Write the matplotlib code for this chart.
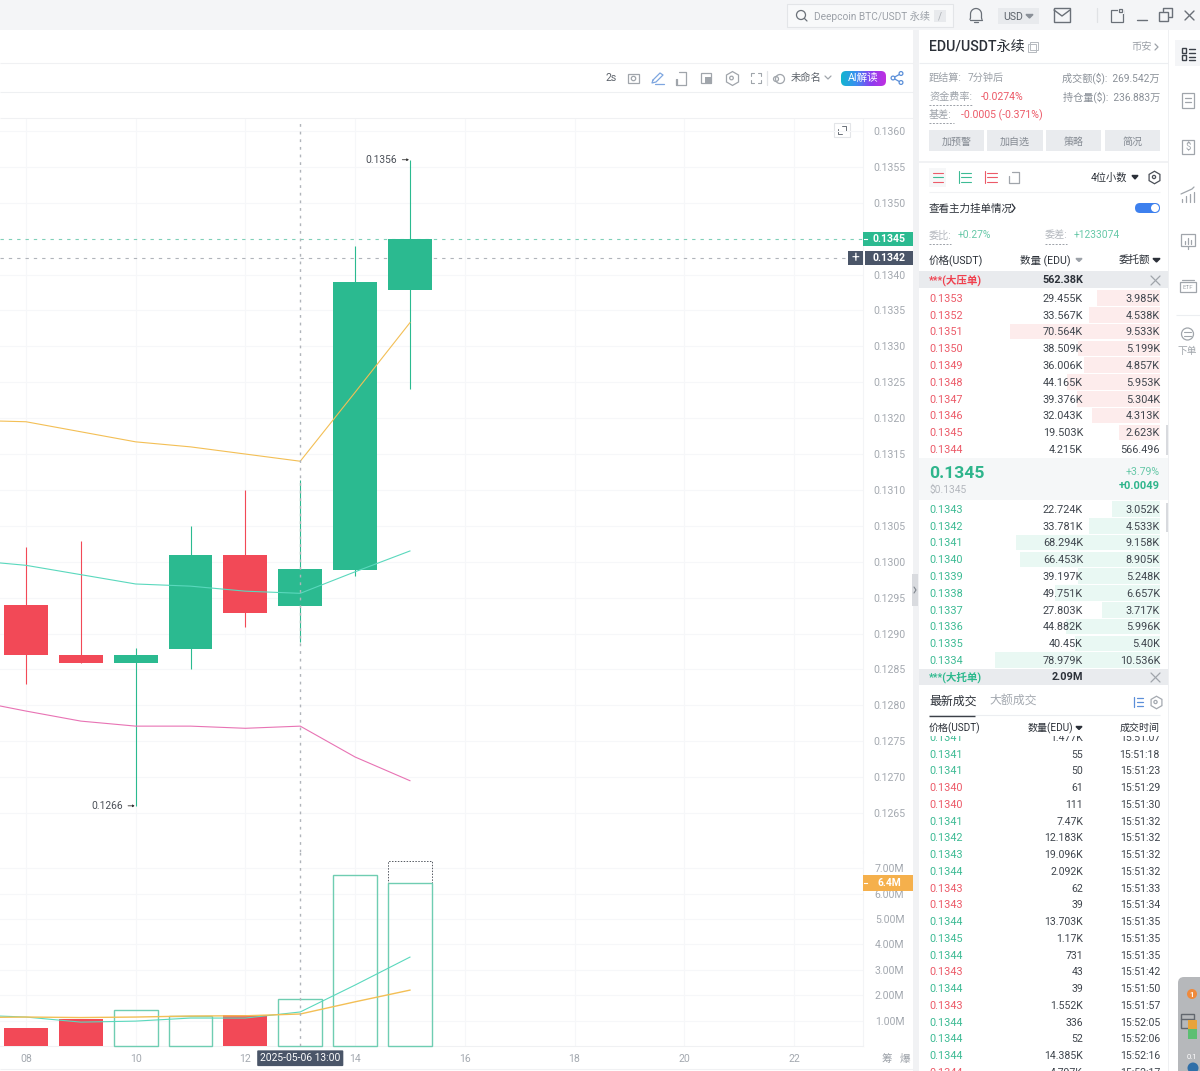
import matplotlib
matplotlib.use('Agg')
import matplotlib.pyplot as plt
from matplotlib.colors import LinearSegmentedColormap
from matplotlib.patches import Rectangle, FancyBboxPatch, Circle
import numpy as np

plt.rcParams['font.family'] = ['Roboto', 'Noto Sans CJK SC', 'DejaVu Sans']

# Candle data, one per hour
hours = [8, 9, 10, 11, 12, 13, 14, 15]
opens = [0.1294, 0.1287, 0.12859, 0.12878, 0.13009, 0.12938, 0.12988, 0.13379]
closes = [0.1287, 0.12859, 0.1287, 0.13009, 0.12929, 0.1299, 0.1339, 0.1345]
highs = [0.1302, 0.13029, 0.1288, 0.1305, 0.1310, 0.13114, 0.1344, 0.1356]
lows = [0.1283, 0.12859, 0.1266, 0.12851, 0.12909, 0.12888, 0.1298, 0.13241]
volumes = [0.71, 1.06, 1.42, 1.18, 1.22, 1.85, 6.73, 6.42]
volume_forecast = 7.28

# Moving averages (first point sits just off the left edge)
ma_hours = [7, 8, 9, 10, 11, 12, 13, 14, 15]
ma_yellow = [0.13197, 0.13195, 0.13181, 0.13167, 0.1316, 0.1315, 0.1314, 0.13236, 0.13333]
ma_teal = [0.13002, 0.12995, 0.12982, 0.12969, 0.12966, 0.12959, 0.12956, 0.12986, 0.13015]
ma_pink = [0.12807, 0.12792, 0.12778, 0.12771, 0.12771, 0.12768, 0.12771, 0.12728, 0.12695]
vol_ma_teal = [1.22, 1.14, 0.94, 0.98, 1.1, 1.1, 1.34, 2.4, 3.5]
vol_ma_yellow = [1.12, 1.14, 1.12, 1.14, 1.18, 1.19, 1.26, 1.74, 2.2]

price_ticks = [0.1265, 0.1270, 0.1275, 0.1280, 0.1285, 0.1290, 0.1295, 0.1300, 0.1305, 0.1310,
               0.1315, 0.1320, 0.1325, 0.1330, 0.1335, 0.1340, 0.1350, 0.1355, 0.1360]
vol_ticks = [1, 2, 3, 4, 5, 6, 7]
hour_ticks = [8, 10, 12, 14, 16, 18, 20, 22]
last_price = 0.1345
cross_price = 0.13423

# Order book
ask_prices = ['0.1353', '0.1352', '0.1351', '0.1350', '0.1349', '0.1348', '0.1347', '0.1346', '0.1345', '0.1344']
ask_sizes = ['29.455K', '33.567K', '70.564K', '38.509K', '36.006K', '44.165K', '39.376K', '32.043K', '19.503K', '4.215K']
ask_totals = ['3.985K', '4.538K', '9.533K', '5.199K', '4.857K', '5.953K', '5.304K', '4.313K', '2.623K', '566.496']
bid_prices = ['0.1343', '0.1342', '0.1341', '0.1340', '0.1339', '0.1338', '0.1337', '0.1336', '0.1335', '0.1334']
bid_sizes = ['22.724K', '33.781K', '68.294K', '66.453K', '39.197K', '49.751K', '27.803K', '44.882K', '40.45K', '78.979K']
bid_totals = ['3.052K', '4.533K', '9.158K', '8.905K', '5.248K', '6.657K', '3.717K', '5.996K', '5.40K', '10.536K']

# Latest trades
trade_prices = ['0.1341', '0.1341', '0.1341', '0.1340', '0.1340', '0.1341', '0.1342', '0.1343', '0.1344', '0.1343', '0.1343',
                '0.1344', '0.1345', '0.1344', '0.1343', '0.1344', '0.1343', '0.1344', '0.1344', '0.1344', '0.1344']
trade_sizes = ['1.477K', '55', '50', '61', '111', '7.47K', '12.183K', '19.096K', '2.092K', '62', '39',
               '13.703K', '1.17K', '731', '43', '39', '1.552K', '336', '52', '14.385K', '4.797K']
trade_times = ['15:51:07', '15:51:18', '15:51:23', '15:51:29', '15:51:30', '15:51:32', '15:51:32', '15:51:32', '15:51:32',
               '15:51:33', '15:51:34', '15:51:35', '15:51:35', '15:51:35', '15:51:42', '15:51:50', '15:51:57',
               '15:52:05', '15:52:06', '15:52:16', '15:52:17']
trade_sides = ['g', 'g', 'g', 'r', 'r', 'g', 'g', 'g', 'g', 'r', 'r', 'g', 'g', 'g', 'r', 'g', 'r', 'g', 'g', 'g', 'r']

GREEN = '#2bba90'
RED = '#f24957'
TXT_GREEN = '#3dbb94'
TXT_RED = '#ec5a68'
DARK = '#2b3038'
GRAY = '#a0a5ab'
AXIS = '#a4a9b0'
W, H = 1200, 1071

fig = plt.figure(figsize=(12, 10.71), dpi=100, facecolor='white')


def px_axes(left, top, right, bottom, **kw):
    return fig.add_axes([left / W, 1 - bottom / H, (right - left) / W, (bottom - top) / H], **kw)


# Page furniture lives on a pixel-coordinate axes underneath the chart
ui = px_axes(0, 0, W, H, zorder=0)
ui.set_xlim(0, W)
ui.set_ylim(H, 0)
ui.axis('off')


def box(x0, y0, x1, y1, color, z=1, **kw):
    ui.add_patch(Rectangle((x0, y0), x1 - x0, y1 - y0, fc=color, ec='none', zorder=z, **kw))


def outline(x0, y0, x1, y1, color=GRAY, lw=0.9, z=5):
    ui.add_patch(Rectangle((x0, y0), x1 - x0, y1 - y0, fc='none', ec=color, lw=lw, zorder=z))


def hline(y, x0, x1, color='#eceef1', lw=0.8, ls='-', z=2):
    ui.plot([x0, x1], [y, y], color=color, lw=lw, ls=ls, zorder=z, solid_capstyle='butt')


def poly(xs, ys, color=GRAY, lw=0.9, z=5):
    ui.plot(xs, ys, color=color, lw=lw, zorder=z, solid_capstyle='round')


def label(x, y, s, size=7.6, color=DARK, ha='left', weight='normal', z=6):
    # text boxes sit a touch high when centred on the row
    ui.text(x, y + 0.8, s, fontsize=size, color=color, ha=ha, va='center', fontweight=weight, zorder=z)


def ring(x, y, r, color=GRAY, lw=0.9):
    ui.add_patch(Circle((x, y), r, fc='none', ec=color, lw=lw, zorder=5))


def depth_width(total):
    # 15.7 px per thousand USDT in the depth bars
    val = float(total[:-1]) if total.endswith('K') else float(total) / 1000
    return val * 15.7


# backgrounds
box(0, 0, W, 30, '#f4f5f7')
box(913, 30, 919, H, '#f1f2f4')
box(1168, 30, 1169, H, '#eff0f2')
hline(63, 0, 913, color='#f0f1f3')
hline(92, 0, 913, color='#eef0f2')
hline(118, 0, 913, color='#f0f1f3')
hline(1069, 0, 913, color='#f0f1f3')
box(912, 574, 918, 606, '#d9dbdf', z=3)
poly([914, 916, 914], [587, 590, 593], color='#7f858d', lw=0.8)

# top bar
ui.add_patch(Rectangle((787, 4), 166, 23, fc='#f8f9fa', ec='#e3e5e8', lw=0.8, zorder=2))
ring(801, 15, 4.5, color='#6a7078')
poly([804.5, 807], [18.5, 21], color='#6a7078')
label(814, 16, 'Deepcoin BTC/USDT 永续', size=7.3, color='#9ca1a8')
box(934, 10, 946, 22, '#e8eaed', z=3)
label(940, 16, '/', size=7, color='#aaaeb4', ha='center')
# bell
ang = np.linspace(np.pi, 2 * np.pi, 20)
poly(np.r_[970, 970.5, 976 + 5.5 * np.cos(ang), 981.5, 982], np.r_[19.5, 18, 14 + 5.5 * np.sin(ang), 18, 19.5], color='#6a7078')
poly([970, 982], [19.5, 19.5], color='#6a7078')
poly([974, 978], [22, 22], color='#6a7078')
box(998, 8, 1039, 24, '#e8eaed', z=2)
label(1003, 16, 'USD', size=7.6, color='#5d636b')
ui.fill([1026, 1033, 1029.5], [14.5, 14.5, 18], color='#8a9098', zorder=5)
outline(1054, 8, 1070, 22, color='#6a7078', lw=1)
poly([1054, 1062, 1070], [10, 16, 10], color='#6a7078', lw=1)
poly([1097, 1097], [8, 22], color='#e0e2e5')
outline(1111, 10, 1123, 22, color='#6a7078')
box(1118, 8, 1124, 14, '#f4f5f7', z=5.5)
outline(1119, 9, 1122, 12, color='#6a7078', z=6)
poly([1137, 1147], [19.5, 19.5], color='#6a7078', lw=1)
outline(1159, 12, 1168, 21, color='#6a7078', lw=1)
poly([1163, 1163, 1172, 1172, 1169], [11, 8, 8, 17, 17], color='#6a7078', lw=1)
poly([1185, 1194], [11, 20], color='#6a7078', lw=1)
poly([1194, 1185], [11, 20], color='#6a7078', lw=1)

# chart toolbar
label(605, 77, '2s', size=7.6, color='#5d636b')
outline(628, 74, 639, 83)
ring(633.5, 78.5, 2.2)
poly([653, 660, 663, 656, 652, 653], [80, 73, 75, 82, 83, 80], color='#7ea6e0')
poly([655, 664], [84, 84], color='#7ea6e0')
poly([679, 686, 686, 676, 676], [72, 72, 85, 85, 79])
poly([677, 677], [79, 85])
outline(701, 73, 711, 83)
box(705, 77, 712, 84, GRAY, z=5)
ui.plot([731.5], [78], marker='h', ms=10, mfc='none', mec=GRAY, mew=0.9, zorder=5)
ring(731.5, 78, 1.8)
for cx, cy, dx, dy in [(751, 73, 1, 1), (761, 73, -1, 1), (751, 83, 1, -1), (761, 83, -1, -1)]:
    poly([cx + 3 * dx, cx, cx], [cy, cy, cy + 3 * dy], lw=0.8)
poly([767, 767], [71, 85], color='#e2e4e7')
ring(780, 79, 4.5)
ring(776, 79, 2.5)
label(791, 77, '未命名', size=7.4, color='#5d636b')
poly([825, 828, 831], [76, 79, 76])

# AI button with gradient
ai_box = FancyBboxPatch((841, 71), 45, 15, boxstyle='round,pad=0,rounding_size=5', fc='none', ec='none', zorder=4)
ui.add_patch(ai_box)
grad = ui.imshow(np.linspace(0, 1, 64).reshape(1, -1), extent=(841, 886, 86, 71), aspect='auto',
                 cmap=LinearSegmentedColormap.from_list('ai', ['#12b5cf', '#3b8ff0', '#8a3df0', '#c030e0']),
                 zorder=4)
grad.set_clip_path(ai_box)
ui.set_xlim(0, W)
ui.set_ylim(H, 0)
label(863.5, 77.5, 'AI解读', size=7.6, color='white', ha='center')
ring(893, 78, 1.9, color='#5b8fd9')
ring(901, 73.5, 1.9, color='#5b8fd9')
ring(901, 82.5, 1.9, color='#5b8fd9')
poly([894.7, 899.3], [77, 74.5], color='#5b8fd9')
poly([894.7, 899.3], [79, 81.5], color='#5b8fd9')

# expand icon inside the chart
outline(834, 123, 850, 137, color='#e3e5e8', lw=0.8)
poly([838, 838, 842], [129, 134, 134], color='#6a7078', lw=0.7)
poly([842, 846, 846], [126, 126, 131], color='#6a7078', lw=0.7)

# right panel head
label(929, 46.5, 'EDU/USDT永续', size=10.2, color=DARK, weight=500)
outline(1028, 44, 1036, 52, color='#b5b9bf', lw=0.7)
outline(1030, 42, 1038, 50, color='#b5b9bf', lw=0.7)
label(1152, 46.5, '币安', size=7.4, color='#9ca1a8', ha='right')
poly([1155, 1158, 1155], [44, 47, 50], color='#9ca1a8')
hline(63, 919, 1168)
label(929, 77, '距结算:', size=7.3, color='#9ca1a8')
label(968, 77, '7分钟后', size=7.3, color='#9ca1a8')
label(1160, 77, '成交额($):  269.542万', size=7.3, color='#8a9098', ha='right')
label(929, 96, '资金费率:', size=7.3, color='#9ca1a8')
label(981, 96, '-0.0274%', size=7.6, color=TXT_RED)
label(1160, 96, '持仓量($):  236.883万', size=7.3, color='#8a9098', ha='right')
label(929, 114, '基差:', size=7.3, color='#9ca1a8')
label(961, 114, '-0.0005 (-0.371%)', size=7.6, color=TXT_RED)
hline(104.5, 929, 973, color='#9ca1a8', ls=(0, (2, 1.5)), lw=0.7)
hline(122.5, 929, 954, color='#9ca1a8', ls=(0, (2, 1.5)), lw=0.7)
for x0, x1, s in [(929, 984, '加预警'), (987, 1043, '加自选'), (1046, 1101, '策略'), (1105, 1160, '简况')]:
    box(x0, 130, x1, 151, '#e9ebee')
    label((x0 + x1) / 2, 141, s, size=7.2, color='#858b93', ha='center')
box(919, 161, 1168, 162.5, '#f1f2f4')

# order book controls
box(929, 168, 946, 187, '#f6f7f8')
for yy, col in [(172.5, TXT_RED), (177, TXT_GREEN), (181.5, TXT_RED)]:
    poly([933, 943], [yy, yy], color=col, lw=0.8)
for yy in [172.5, 177, 181.5]:
    poly([961, 971], [yy, yy], color=TXT_GREEN, lw=0.8)
    poly([987, 997], [yy, yy], color=TXT_RED, lw=0.8)
poly([959, 959], [171, 183], color=TXT_GREEN, lw=0.8)
poly([985, 985], [171, 183], color=TXT_RED, lw=0.8)
poly([1012, 1019, 1019, 1009, 1009], [172, 172, 183, 183, 176])
label(1091, 176.5, '4位小数', size=7.4, color=DARK)
ui.fill([1132, 1138, 1135], [175.5, 175.5, 179], color=DARK, zorder=5)
ui.plot([1154], [177], marker='h', ms=9, mfc='none', mec='#4a4f57', mew=0.9, zorder=5)
ring(1154, 177, 1.6, color='#4a4f57')
hline(192, 929, 1160, color='#f1f2f4')
label(929, 207.5, '查看主力挂单情况', size=7.6, color=DARK)
poly([1012, 1015, 1012], [204, 208, 212], color=DARK)
ui.add_patch(FancyBboxPatch((1135, 203), 25, 10, boxstyle='round,pad=0,rounding_size=5', fc='#3d80ee', ec='none', zorder=4))
ui.add_patch(Circle((1155, 208), 4, fc='white', ec='none', zorder=5))
label(929, 234.5, '委比:', size=7.3, color='#b3b7bd')
label(958, 234.5, '+0.27%', size=7.4, color='#67c8a8')
label(1045, 234.5, '委差:', size=7.3, color='#b3b7bd')
label(1074, 234.5, '+1233074', size=7.4, color='#67c8a8')
hline(243.5, 929, 951, color='#9ca1a8', ls=(0, (2, 1.5)), lw=0.7)
hline(243.5, 1045, 1067, color='#9ca1a8', ls=(0, (2, 1.5)), lw=0.7)
label(929, 259, '价格(USDT)', size=7.6, color=DARK)
label(1071, 259, '数量 (EDU)', size=7.6, color=DARK, ha='right')
ui.fill([1076, 1082, 1079], [258.5, 258.5, 261.5], color='#9ca1a8', zorder=5)
label(1150, 259, '委托额', size=7.6, color=DARK, ha='right')
ui.fill([1153, 1160, 1156.5], [258.5, 258.5, 262], color=DARK, zorder=5)

# large order strips
box(919, 271, 1168, 288, '#e9ebee')
label(929, 279, '***(大压单)', size=7.6, color='#f0404e', weight='bold')
label(1083, 279, '562.38K', size=7.8, color=DARK, ha='right', weight='bold')
poly([1151, 1160], [276, 285], color=GRAY)
poly([1160, 1151], [276, 285], color=GRAY)
box(919, 669, 1168, 685, '#e9ebee')
label(929, 676.5, '***(大托单)', size=7.6, color='#2cb98d', weight='bold')
label(1083, 676.5, '2.09M', size=7.8, color=DARK, ha='right', weight='bold')
poly([1151, 1160], [673, 682], color=GRAY)
poly([1160, 1151], [673, 682], color=GRAY)

# asks and bids
ask_y = 298 + np.arange(10) * 16.8
bid_y = 509 + np.arange(10) * 16.8
ask_w = [depth_width(t) for t in ask_totals]
bid_w = [depth_width(t) for t in bid_totals]
ui.barh(ask_y[:-1], ask_w[:-1], height=15.5, left=[1160 - w for w in ask_w[:-1]], color='#fdecec', zorder=2)
ui.barh(bid_y, bid_w, height=15.5, left=[1160 - w for w in bid_w], color='#e9f8f3', zorder=2)
for y, p, s, t in zip(ask_y, ask_prices, ask_sizes, ask_totals):
    label(929, y, p, size=7.8, color=TXT_RED)
    label(1083, y, s, size=7.8, color='#3f454d', ha='right')
    label(1160, y, t, size=7.8, color='#3f454d', ha='right')
for y, p, s, t in zip(bid_y, bid_prices, bid_sizes, bid_totals):
    label(929, y, p, size=7.8, color=TXT_GREEN)
    label(1083, y, s, size=7.8, color='#3f454d', ha='right')
    label(1160, y, t, size=7.8, color='#3f454d', ha='right')
box(1165.5, 425, 1168, 455, '#d8dade', z=3)
box(1165.5, 503, 1168, 532, '#d8dade', z=3)

# mid price
box(919, 458, 1168, 500, '#f5f7f8')
label(929, 472.5, '0.1345', size=12.6, color='#2fb58c', weight='bold')
label(929, 489, '$0.1345', size=7.4, color='#b3b7bd')
label(1160, 471.5, '+3.79%', size=7.6, color='#67c8a8', ha='right')
label(1160, 485.5, '+0.0049', size=8, color='#2fb58c', ha='right', weight='bold')

# trade list (header drawn over the first clipped row)
trade_y = 737 + np.arange(21) * 16.75
for y, p, s, t, side in zip(trade_y, trade_prices, trade_sizes, trade_times, trade_sides):
    label(929, y, p, size=7.8, color=TXT_GREEN if side == 'g' else TXT_RED, z=2)
    label(1083, y, s, size=7.6, color='#3f454d', ha='right', z=2)
    label(1160, y, t, size=7.6, color='#3f454d', ha='right', z=2)
box(919, 686, 1168, 735.5, 'white', z=3)
label(929, 700, '最新成交', size=8.6, color=DARK)
label(989, 700, '大额成交', size=8.6, color='#a4a9b0')
hline(715, 929, 1160, color='#eceef1', z=4)
hline(715.5, 929, 975, color='#3b4048', lw=1, z=5)
poly([1134, 1134], [697, 707], color='#5b8fd9')
for yy in [698, 702, 706]:
    poly([1137, 1143], [yy, yy], color='#5b8fd9')
ui.plot([1155.5], [702], marker='h', ms=9, mfc='none', mec='#a4a9b0', mew=0.9, zorder=5)
ring(1155.5, 702, 1.6, color='#a4a9b0')
label(929, 727, '价格(USDT)', size=7.2, color=DARK)
label(1073, 727, '数量(EDU)', size=7.2, color=DARK, ha='right')
ui.fill([1076, 1082, 1079], [726.5, 726.5, 729.5], color=DARK, zorder=5)
label(1160, 727, '成交时间', size=7.2, color=DARK, ha='right')

# side bar
box(1175, 40, 1200, 66, '#f4f5f7')
for ox, oy in [(1182, 48), (1182, 55)]:
    outline(ox, oy, ox + 4, oy + 5, color='#3b4048', lw=1)
for yy in [49, 53, 57, 60]:
    poly([1189, 1195], [yy, yy], color='#3b4048', lw=1)
outline(1182, 93, 1194, 108)
for yy in [98, 101.5]:
    poly([1185, 1191], [yy, yy])
outline(1182, 140, 1194, 154)
label(1188, 146, '$', size=7, color=GRAY, ha='center')
poly([1181, 1192, 1194], [194, 189, 187])
for xx, top in [(1182, 199), (1186, 196), (1190, 194), (1194, 192)]:
    poly([xx, xx], [top, 202])
outline(1181, 234, 1195, 246)
for xx, top in [(1185, 241), (1188, 238), (1191, 240)]:
    poly([xx, xx], [top, 244])
poly([1188, 1188], [246, 249])
outline(1180, 282, 1196, 292)
label(1188, 286.5, 'ETF', size=4.5, color=GRAY, ha='center')
poly([1182, 1194], [280, 280])
hline(315, 1176, 1200, color='#eceef1')
ring(1187.5, 334, 6)
poly([1184, 1191], [332, 332], lw=0.8)
poly([1184, 1191], [336, 336], lw=0.8)
label(1187, 350.5, '下单', size=7, color=GRAY, ha='center')

# floating widget, bottom right
ui.add_patch(FancyBboxPatch((1178, 977), 40, 110, boxstyle='round,pad=0,rounding_size=6', fc='#b6b8bb', ec='none', zorder=3))
ui.add_patch(Circle((1192, 994), 5, fc='#f08a3c', ec='none', zorder=5))
label(1192, 993.5, '1', size=5.5, color='white', ha='center', weight='bold')
outline(1181, 1014, 1194, 1028, color='#62676e', lw=1)
poly([1181, 1194], [1019, 1019], color='#62676e', lw=1)
box(1188, 1020, 1197, 1029, '#e8a33a', z=6)
box(1188, 1029, 1197, 1039, '#5cbf72', z=6)
label(1192, 1056, '0.1', size=5.5, color='white', ha='center')
ui.add_patch(Circle((1193, 1068), 5.5, fc='#2f6fa8', ec='none', zorder=5))

# ---------- chart ----------
PX_PER_HOUR = 54.85
PX_PER_PRICE = 682 / 0.0095
PX_PER_M = 25.4
chart_right = 863
x_lim = (8 - 26 / PX_PER_HOUR, 8 + (chart_right - 26) / PX_PER_HOUR)

ax = px_axes(0, 119, chart_right, 852, zorder=1, facecolor='none')
ax.set_xlim(*x_lim)
ax.set_ylim(0.1360 - (852 - 131) / PX_PER_PRICE, 0.1360 + (131 - 119) / PX_PER_PRICE)
vol = px_axes(0, 852, chart_right, 1046, zorder=1, facecolor='none')
vol.set_xlim(*x_lim)
vol.set_ylim(0, 194 / PX_PER_M)

for a in (ax, vol):
    for sp in a.spines.values():
        sp.set_visible(False)
    a.spines['right'].set_visible(True)
    a.spines['right'].set_color('#f3f4f6')
    a.set_xticks(hour_ticks)
    a.grid(True, color='#f6f7f9', lw=0.8)
    a.set_axisbelow(True)
    a.yaxis.tick_right()
    a.tick_params(axis='y', length=0, labelsize=7.6, labelcolor=AXIS, pad=7.5)
    a.axvline(13, color='#b0b4ba', lw=1, ls=(0, (2, 3.5)), zorder=6)

ax.set_yticks(price_ticks)
ax.set_yticklabels([f'{p:.4f}' for p in price_ticks])
ax.tick_params(axis='x', length=0, labelbottom=False)
vol.set_yticks(vol_ticks)
vol.set_yticklabels([f'{v:.2f}M' for v in vol_ticks])
vol.spines['bottom'].set_visible(True)
vol.spines['bottom'].set_color('#f0f1f3')
vol.set_xticklabels([f'{h:02d}' for h in hour_ticks])
vol.tick_params(axis='x', length=0, labelsize=7.6, labelcolor=AXIS, pad=5.8)
vol.tick_params(axis='y', pad=8.5)

# candles
colors = [GREEN if c >= o else RED for o, c in zip(opens, closes)]
ax.vlines(hours, lows, highs, colors=colors, lw=0.8, zorder=3)
ax.bar(hours, [abs(c - o) for o, c in zip(opens, closes)], bottom=[min(o, c) for o, c in zip(opens, closes)],
       width=0.8, color=colors, zorder=4)
ax.plot(ma_hours, ma_yellow, color='#f3bf55', lw=0.8, zorder=5)
ax.plot(ma_hours, ma_teal, color='#5ad8bd', lw=0.8, zorder=5)
ax.plot(ma_hours, ma_pink, color='#e873b4', lw=0.8, zorder=5)

# high/low markers
for xv, yv in [(hours[-1], highs[-1]), (hours[2], lows[2])]:
    ax.annotate(f'{yv:.4f}', xy=(xv, yv), xytext=(-9, 0), textcoords='offset points',
                ha='right', va='center', fontsize=7.4, color='#4a4f57',
                arrowprops=dict(arrowstyle='-|>,head_length=0.14,head_width=0.09', color='#333', lw=0.6, shrinkA=1.5, shrinkB=0.8))

# price lines and their tags on the right axis
ax.axhline(last_price, color='#7fd0b8', lw=0.8, ls=(0, (3, 4.5)), zorder=2)
ax.axhline(cross_price, color='#b0b4ba', lw=0.8, ls=(0, (3, 4.5)), zorder=2)
tag_h = 14 / PX_PER_PRICE
yt = ax.get_yaxis_transform()
ax.add_patch(Rectangle((1.0, last_price - tag_h / 2), 50 / chart_right, tag_h, transform=yt, fc=GREEN, ec='none',
                       clip_on=False, zorder=10))
ax.plot([1 + 1 / chart_right, 1 + 4 / chart_right], [last_price, last_price], transform=yt, color='white', lw=0.8,
        clip_on=False, zorder=11)
ax.text(1 + 26 / chart_right, last_price, f'{last_price:.4f}', transform=yt, color='white', fontsize=7.6,
        fontweight='bold', ha='center', va='center', zorder=11, clip_on=False)
ax.add_patch(Rectangle((-15 / chart_right + 1, cross_price - tag_h / 2), 15 / chart_right, tag_h, transform=yt, fc='#4a5568',
                       ec='none', clip_on=False, zorder=10))
ax.text(1 - 8 / chart_right, cross_price, '+', transform=yt, color='white', fontsize=10, ha='center', va='center',
        zorder=11, clip_on=False)
ax.add_patch(Rectangle((1 + 1.5 / chart_right, cross_price - tag_h / 2), 48.5 / chart_right, tag_h, transform=yt, fc='#4a5568',
                       ec='none', clip_on=False, zorder=10))
ax.text(1 + 26 / chart_right, cross_price, f'{cross_price:.4f}', transform=yt, color='white', fontsize=7.6,
        fontweight='bold', ha='center', va='center', zorder=11, clip_on=False)

# volume bars: green ones hollow, red ones filled
for h, v, c in zip(hours, volumes, colors):
    if c == GREEN:
        vol.bar(h, v, width=0.8, facecolor='none', edgecolor='#6fcdb2', lw=1, zorder=3, clip_on=False)
    else:
        vol.bar(h, v, width=0.8, color=RED, zorder=3)
vol.bar(hours[-1], volume_forecast - volumes[-1], bottom=volumes[-1], width=0.8, facecolor='none',
        edgecolor='#555a62', lw=0.7, ls=(0, (1.5, 1.5)), zorder=2)
vol.plot(ma_hours, vol_ma_teal, color='#5ad8bd', lw=0.8, zorder=5)
vol.plot(ma_hours, vol_ma_yellow, color='#f3bf55', lw=1, zorder=5)

vt = vol.get_yaxis_transform()
vol_h = 16 / PX_PER_M
vol.add_patch(Rectangle((1.0, volumes[-1] - vol_h / 2), 50 / chart_right, vol_h, transform=vt, fc='#f5b04c', ec='none',
                        clip_on=False, zorder=10))
vol.plot([1 + 1 / chart_right, 1 + 4 / chart_right], [volumes[-1], volumes[-1]], transform=vt, color='white', lw=0.8,
         clip_on=False, zorder=11)
vol.text(1 + 26 / chart_right, volumes[-1], '6.4M', transform=vt, color='white', fontsize=7.4, fontweight='bold',
         ha='center', va='center', zorder=11, clip_on=False)
vol.annotate('2025-05-06 13:00', xy=(13, 0), xycoords=vol.get_xaxis_transform(), xytext=(0, -8.8), textcoords='offset points',
             color='white', fontsize=7.4, ha='center', va='center', zorder=11, annotation_clip=False,
             bbox=dict(boxstyle='round,pad=0.28,rounding_size=0.1', fc='#4a5568', ec='none'))

label(887, 1058.5, '筹', size=7.6, color='#9ca1a8', ha='center')
label(905, 1058.5, '爆', size=7.6, color='#9ca1a8', ha='center')

fig.savefig('out.png', dpi=100)
